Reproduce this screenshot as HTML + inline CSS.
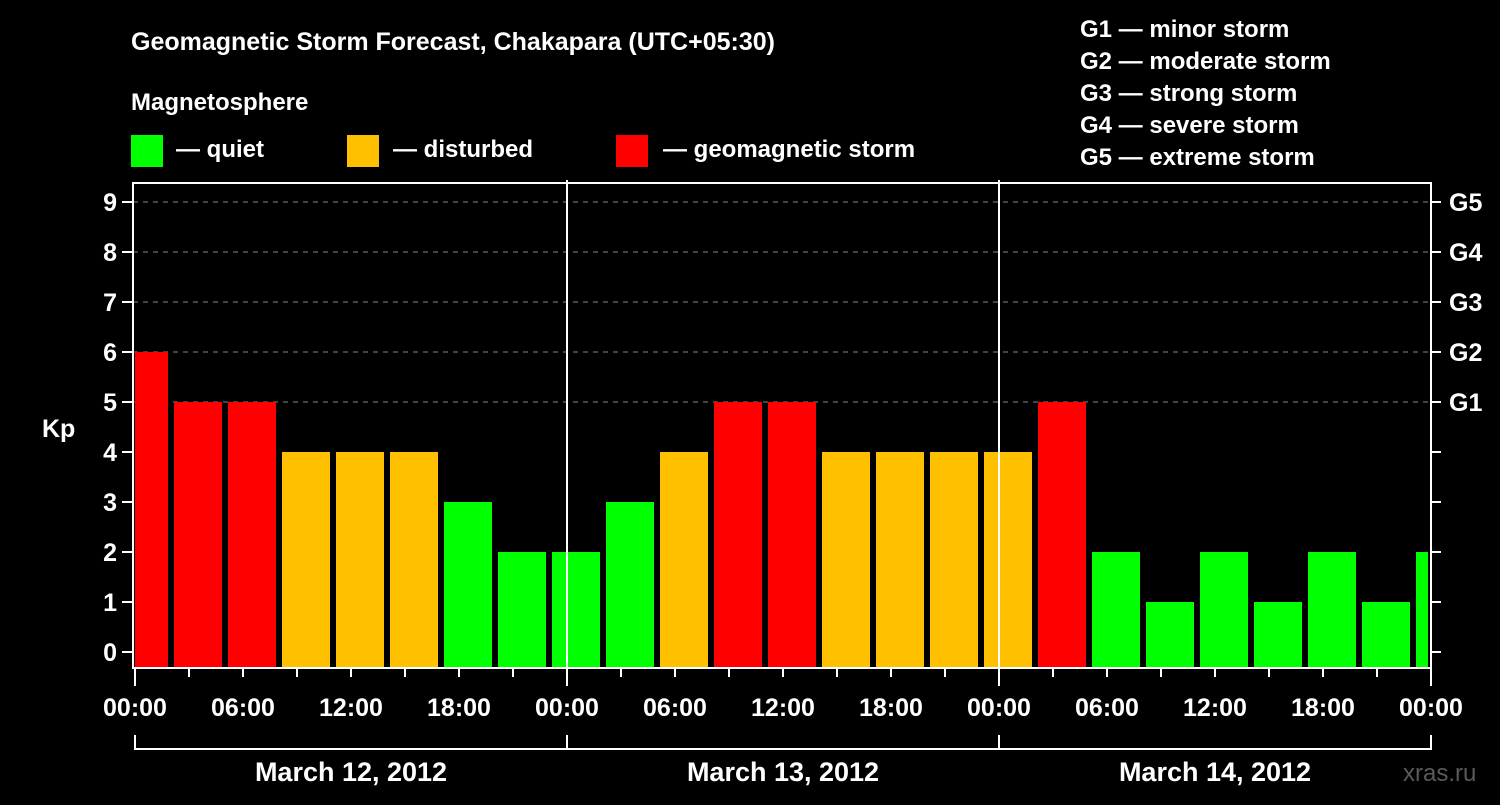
<!DOCTYPE html>
<html><head><meta charset="utf-8"><style>
body{margin:0;background:#000;width:1500px;height:800px;overflow:hidden}
svg text{font-family:"Liberation Sans",sans-serif;font-weight:bold;fill:#fff}
</style></head><body>
<svg id="c" width="1500" height="800">
<rect width="1500" height="800" fill="#000"/>
<text x="131" y="50" font-size="25">Geomagnetic Storm Forecast, Chakapara (UTC+05:30)</text>
<text x="131" y="110" font-size="24">Magnetosphere</text>
<g>
<rect x="131" y="135" width="32" height="32" fill="#00ff00"/>
<text x="176" y="157" font-size="24">— quiet</text>
<rect x="347" y="135" width="32" height="32" fill="#ffc000"/>
<text x="393" y="157" font-size="24">— disturbed</text>
<rect x="616" y="135" width="32" height="32" fill="#ff0000"/>
<text x="663" y="157" font-size="24">— geomagnetic storm</text>
</g>
<g font-size="24">
<text x="1080" y="37">G1 — minor storm</text>
<text x="1080" y="69">G2 — moderate storm</text>
<text x="1080" y="101">G3 — strong storm</text>
<text x="1080" y="133">G4 — severe storm</text>
<text x="1080" y="165">G5 — extreme storm</text>
</g>
<text x="42" y="437" font-size="25">Kp</text>
<text x="1403" y="781" font-size="24" fill="#555" style="fill:#5a5a5a;font-weight:normal">xras.ru</text>
<g id="grid"></g><g id="bars"></g><g id="axes"></g>
</svg>
<script>
const kpValues=[6,5,5,4,4,4,3,2,2,3,4,5,5,4,4,4,4,5,2,1,2,1,2,1,2];
const yTicks=[0,1,2,3,4,5,6,7,8,9];
const gLabels=["","","","","","G1","G2","G3","G4","G5"];
const xTickLabels=["00:00","06:00","12:00","18:00","00:00","06:00","12:00","18:00","00:00","06:00","12:00","18:00","00:00"];
const dayLabels=["March 12, 2012","March 13, 2012","March 14, 2012"];
const NS="http://www.w3.org/2000/svg";
const L=133,R=1431,T=183,B=668;
const x0=135,hourPx=18;
const y=v=>652-v*50;
const xh=h=>x0+h*hourPx;
function mk(p,t,a){const e=document.createElementNS(NS,t);for(const k in a)e.setAttribute(k,a[k]);p.appendChild(e);return e;}
const grid=document.getElementById('grid'),bars=document.getElementById('bars'),axes=document.getElementById('axes');
yTicks.forEach((v,i)=>{
 if(v>=5){const g=mk(grid,'line',{x1:L,x2:R,y1:y(v),y2:y(v),stroke:'#888','stroke-dasharray':'5,5'});
 
 }
 const t=mk(axes,'line',{x1:122,x2:L,y1:y(v),y2:y(v),stroke:'#fff','stroke-width':2});
 
 
 const t2=mk(axes,'line',{x1:R,x2:1441,y1:y(v),y2:y(v),stroke:'#fff','stroke-width':2});
 
 
 const lb=mk(axes,'text',{x:117,y:y(v)+9,'font-size':25,'text-anchor':'end'});lb.textContent=v;
 
 
 if(gLabels[i]){const g=mk(axes,'text',{x:1449,y:y(v)+9,'font-size':25});g.textContent=gLabels[i];
 
 }
});
kpValues.forEach((v,i)=>{
 let s=xh(-1+3*i)+3,e=s+48;
 s=Math.max(s,x0);e=Math.min(e,R-3);
 const c=v>=5?'#ff0000':v>=4?'#ffc000':'#00ff00';
 const r=mk(bars,'rect',{x:s,y:y(v),width:e-s,height:B-1-y(v),fill:c});
 
 
});
[1,2].forEach(d=>{const l=mk(axes,'line',{x1:xh(24*d),x2:xh(24*d),y1:180,y2:B,stroke:'#fff','stroke-width':2});
 
 });
const fr=mk(axes,'rect',{x:L,y:T,width:R-L,height:B-T,fill:'none',stroke:'#fff','stroke-width':2});


for(let h=0;h<=72;h+=3){const big=h%24===0;
 const tk=mk(axes,'line',{x1:xh(h),x2:xh(h),y1:B,y2:B+(big?18:9),stroke:'#fff','stroke-width':2});
 
 }
xTickLabels.forEach((s,i)=>{const t=mk(axes,'text',{x:xh(6*i),y:716,'font-size':25,'text-anchor':'middle'});t.textContent=s;
 
 });
const br=mk(axes,'path',{d:`M${xh(0)},735V749H${xh(72)}V735M${xh(24)},735V749M${xh(48)},735V749`,stroke:'#fff','stroke-width':2,fill:'none'});


dayLabels.forEach((s,i)=>{const t=mk(axes,'text',{x:xh(24*i+12),y:781,'font-size':27,'text-anchor':'middle'});t.textContent=s;
 
 });
</script>
</body></html>
